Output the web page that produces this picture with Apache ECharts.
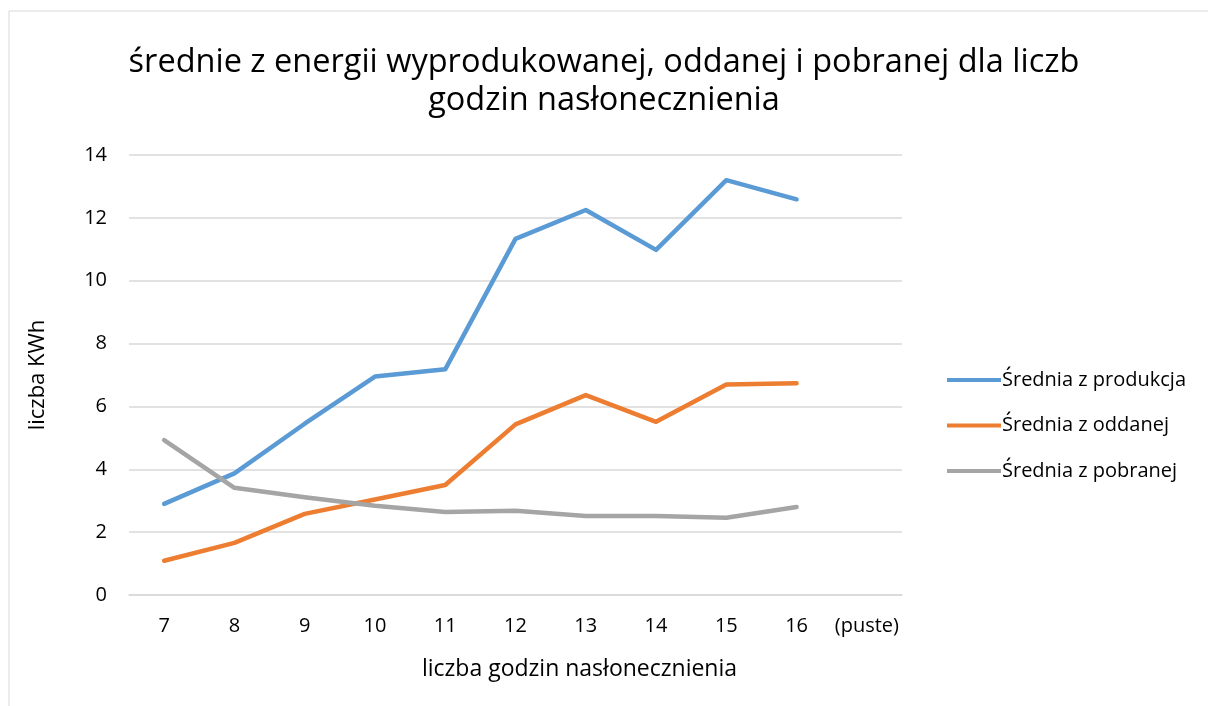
<!DOCTYPE html>
<html>
<head>
<meta charset="utf-8">
<script src="https://cdn.jsdelivr.net/npm/echarts@6/dist/echarts.min.js"></script>
<style>
  html, body { margin: 0; padding: 0; background: #fff; }
  #chart { width: 1208px; height: 706px; }
</style>
</head>
<body>
<div id="chart"></div>
<script>
// godziny nasłonecznienia
const categories = ['7', '8', '9', '10', '11', '12', '13', '14', '15', '16', '(puste)'];
const produkcja = [2.90, 3.87, 5.45, 6.95, 7.18, 11.33, 12.25, 10.98, 13.2, 12.59, null];
const oddanej = [1.09, 1.66, 2.58, 3.04, 3.50, 5.43, 6.36, 5.51, 6.70, 6.74, null];
const pobranej = [4.93, 3.41, 3.11, 2.84, 2.64, 2.68, 2.51, 2.51, 2.46, 2.80, null];
const seriesNames = ['Średnia z produkcja', 'Średnia z oddanej', 'Średnia z pobranej'];
const colors = ['#5B9BD5', '#ED7D31', '#A5A5A5'];

const font = '"Open Sans", sans-serif';

const chart = echarts.init(document.getElementById('chart'));

const makeLine = (name, data, color) => ({
  name: name,
  type: 'line',
  data: data,
  showSymbol: false,
  symbol: 'none',
  lineStyle: { width: 4.5, color: color, cap: 'round', join: 'round' },
  itemStyle: { color: color },
  animation: false
});

chart.setOption({
  textStyle: { fontFamily: font },
  graphic: [{
    type: 'rect',
    shape: { x: 9, y: 11, width: 1400, height: 900 },
    style: { fill: 'none', stroke: '#d9d9d9', lineWidth: 1 },
    silent: true
  }],
  title: {
    text: 'średnie z energii wyprodukowanej, oddanej i pobranej dla liczb\ngodzin nasłonecznienia',
    left: 'center',
    top: 39,
    padding: [5, 5, 5, 23],
    textStyle: { fontFamily: font, fontWeight: 'normal', fontSize: 32.5, color: '#000', lineHeight: 38 }
  },
  legend: {
    orient: 'vertical',
    left: 942,
    top: 365,
    itemWidth: 54,
    itemHeight: 14,
    itemGap: 25.5,
    icon: 'path://M0,5 L54,5 L54,9 L0,9 Z',
    textStyle: { fontFamily: font, fontSize: 20, lineHeight: 20, color: '#000', padding: [0, 0, 0, -4] },
    data: seriesNames
  },
  grid: { left: 129, right: 306, top: 155, bottom: 111 },
  xAxis: {
    type: 'category',
    data: categories,
    boundaryGap: true,
    name: 'liczba godzin nasłonecznienia',
    nameLocation: 'middle',
    nameGap: 63,
    nameTextStyle: { fontFamily: font, fontSize: 23, color: '#000', padding: [0, 0, 0, 128] },
    axisLine: { show: true, lineStyle: { color: '#d9d9d9', width: 1.5 } },
    axisTick: { show: false },
    axisLabel: { fontFamily: font, fontSize: 20, color: '#000', margin: 21, interval: 0 }
  },
  yAxis: {
    type: 'value',
    min: 0,
    max: 14,
    interval: 2,
    name: 'liczba KWh',
    nameLocation: 'middle',
    nameGap: 80,
    nameTextStyle: { fontFamily: font, fontSize: 22, color: '#000' },
    axisLine: { show: false },
    axisTick: { show: false },
    axisLabel: { fontFamily: font, fontSize: 20, color: '#000', margin: 22 },
    splitLine: { lineStyle: { color: '#d9d9d9', width: 1.5 } }
  },
  series: [
    makeLine(seriesNames[0], produkcja, colors[0]),
    makeLine(seriesNames[1], oddanej, colors[1]),
    makeLine(seriesNames[2], pobranej, colors[2])
  ]
});
</script>
</body>
</html>
